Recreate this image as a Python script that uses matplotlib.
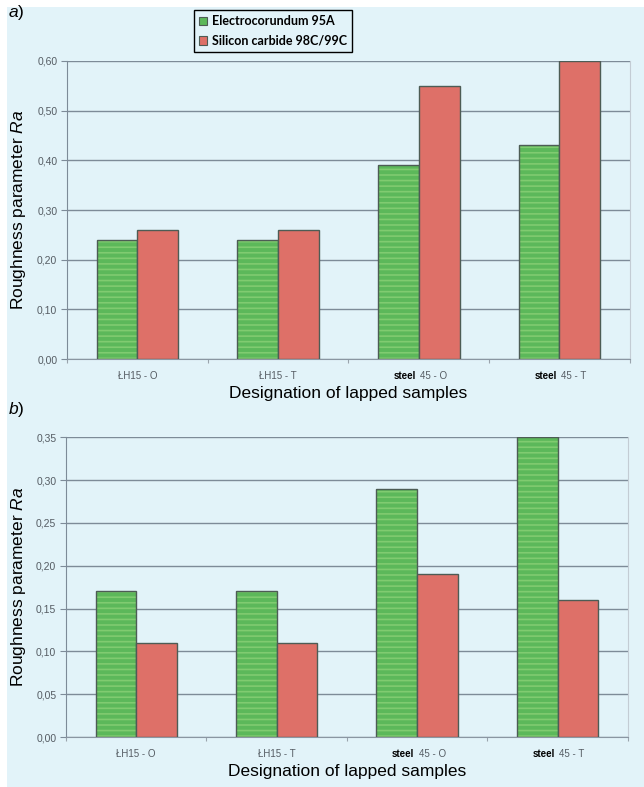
import matplotlib.pyplot as plt
from matplotlib.patches import Rectangle
from matplotlib.ticker import FuncFormatter, FixedLocator
import numpy as np

plt.rcParams['font.family'] = 'Liberation Sans'
plt.rcParams['mathtext.fontset'] = 'custom'
plt.rcParams['mathtext.it'] = 'Liberation Sans:italic'
plt.rcParams['mathtext.rm'] = 'Liberation Sans'
plt.rcParams['hatch.linewidth'] = 1.2

samples = ["ŁH15 - O", "ŁH15 - T", "45 - O", "45 - T"]
steel_prefix = [False, False, True, True]
series_names = ["Electrocorundum 95A", "Silicon carbide 98C/99C"]

# panel a
ra_a_electro = [0.24, 0.24, 0.39, 0.43]
ra_a_sic = [0.26, 0.26, 0.55, 0.60]
# panel b
ra_b_electro = [0.17, 0.17, 0.29, 0.35]
ra_b_sic = [0.11, 0.11, 0.19, 0.16]

bg = '#e2f3f9'
green = '#5cb85a'
green_stripe = '#80cb70'
red = '#de7068'
edge = '#4d5c55'
grid_c = '#7d8b98'
tick_c = '#555c63'

fig = plt.figure(figsize=(6.44, 7.87), dpi=100, facecolor=bg)
# white margins at the top and left edge
fig.patches.append(Rectangle((0, 0), 7 / 644, 1, transform=fig.transFigure,
                             facecolor='white', edgecolor='none', zorder=0))
fig.patches.append(Rectangle((0, 1 - 7 / 787), 1, 7 / 787, transform=fig.transFigure,
                             facecolor='white', edgecolor='none', zorder=0))

ax_a = fig.add_axes([0.104, 0.5438, 0.874, 0.3787])
ax_b = fig.add_axes([0.1025, 0.0635, 0.8725, 0.381])

comma = FuncFormatter(lambda v, p: f"{v:.2f}".replace('.', ','))
x = np.arange(len(samples))
w = 0.29


def draw_panel(ax, electro, sic, ymax, step):
    ax.set_facecolor(bg)
    # green bars with light horizontal stripes
    ax.bar(x - w / 2, electro, w, color=green, edgecolor=green_stripe,
           hatch='---', linewidth=0, zorder=2)
    ax.bar(x - w / 2, electro, w, fill=False, edgecolor=edge, linewidth=1.0, zorder=3)
    ax.bar(x + w / 2, sic, w, color=red, edgecolor=edge, linewidth=1.0, zorder=3)

    ax.set_xlim(-0.5, len(samples) - 0.5)
    ax.set_ylim(0, ymax)
    ax.yaxis.set_major_locator(FixedLocator(np.arange(0, ymax + step / 2, step)))
    ax.yaxis.set_major_formatter(comma)
    ax.grid(axis='y', color=grid_c, linewidth=1.0, zorder=1)
    ax.set_axisbelow(True)

    ax.set_xticks(np.arange(-0.5, len(samples)))
    ax.set_xticklabels([])
    ax.tick_params(axis='x', length=3, color='#9aa4ad', direction='out')
    ax.tick_params(axis='y', length=4, color=grid_c, labelsize=7.5,
                   labelcolor=tick_c, pad=3)
    ax.spines['top'].set_visible(False)
    ax.spines['left'].set_color(grid_c)
    ax.spines['bottom'].set_color('#8a96a2')
    ax.spines['right'].set_color('#c3ccd4')

    for i, lab in enumerate(samples):
        if steel_prefix[i]:
            ax.annotate("steel", xy=(i, 0), xycoords=('data', 'axes fraction'),
                        xytext=(-2, -12), textcoords='offset points',
                        ha='right', va='center', fontsize=7, fontweight='bold',
                        color='black')
            ax.annotate(lab, xy=(i, 0), xycoords=('data', 'axes fraction'),
                        xytext=(1, -12), textcoords='offset points',
                        ha='left', va='center', fontsize=7, color=tick_c)
        else:
            ax.annotate(lab, xy=(i, 0), xycoords=('data', 'axes fraction'),
                        xytext=(0, -12), textcoords='offset points',
                        ha='center', va='center', fontsize=7, color=tick_c)

    ax.set_xlabel("Designation of lapped samples", fontsize=12.5)
    ax.set_ylabel("Roughness parameter $Ra$", fontsize=12.5)


draw_panel(ax_a, ra_a_electro, ra_a_sic, 0.60, 0.10)
draw_panel(ax_b, ra_b_electro, ra_b_sic, 0.35, 0.05)
ax_a.yaxis.set_label_coords(-0.069, 0.5)
ax_b.yaxis.set_label_coords(-0.068, 0.5)
ax_a.xaxis.set_label_coords(0.5, -0.09)
ax_b.xaxis.set_label_coords(0.5, -0.09)

fig.text(8 / 644, 1 - 12 / 787, "$a$)", fontsize=12.5, va='center', ha='left')
fig.text(8 / 644, 1 - 409 / 787, "$b$)", fontsize=12.5, va='center', ha='left')

handles = [Rectangle((0, 0), 1, 1, facecolor=green, edgecolor=edge, linewidth=0.8),
           Rectangle((0, 0), 1, 1, facecolor=red, edgecolor=edge, linewidth=0.8)]
leg = fig.legend(handles, series_names, loc='center',
                 bbox_to_anchor=(273 / 644, 1 - 31 / 787),
                 prop={'family': 'Lato', 'weight': 'bold', 'size': 9},
                 frameon=True, fancybox=False, edgecolor='black',
                 facecolor=bg, framealpha=1, handlelength=0.65, handleheight=0.65,
                 handletextpad=0.35, borderpad=0.45, labelspacing=0.6,
                 borderaxespad=0)
leg.get_frame().set_linewidth(1.0)

fig.savefig("out.png", dpi=100, facecolor=fig.get_facecolor())
